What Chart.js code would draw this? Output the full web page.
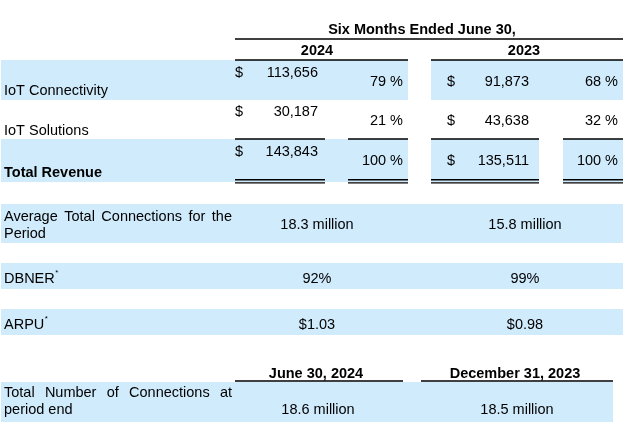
<!DOCTYPE html>
<html>
<head>
<meta charset="utf-8">
<script src="https://cdn.jsdelivr.net/npm/chart.js@4.4.1/dist/chart.umd.min.js"></script>
<style>
  html, body { margin: 0; padding: 0; background: #fff; }
  canvas { display: block; }
</style>
</head>
<body>
<canvas id="table" width="626" height="422"></canvas>
<script>
// --- Data ---
const periodTitle = 'Six Months Ended June 30,';
const periods = ['2024', '2023'];
const categories = ['IoT Connectivity', 'IoT Solutions', 'Total Revenue'];
const revenue2024 = [113656, 30187, 143843];
const revenue2023 = [91873, 43638, 135511];
const share2024 = [79, 21, 100];
const share2023 = [68, 32, 100];

const metricLabels = [['Average Total Connections for the', 'Period'], ['DBNER*'], ['ARPU*']];
const metrics2024 = ['18.3 million', '92%', '$1.03'];
const metrics2023 = ['15.8 million', '99%', '$0.98'];

const pointInTime = ['June 30, 2024', 'December 31, 2023'];
const endLabel = ['Total Number of Connections at', 'period end'];
const endConnections = [18.6, 18.5];

// --- Layout (page units = pixels of the 626x422 sheet) ---
const BLUE = '#D0EBFC';
const FONT = '"Liberation Sans", Arial, sans-serif';
const SIZE = 14.5;
const TEXT_DY = 1.5; // canvas 'middle' sits a bit above the cap centre
const col = { label: 4, labelEnd: 232, usd24: 235, amt24: 318, pct24: 403, usd23: 447, amt23: 529, pct23: 618, mid24: 317, mid23: 525 };
const revRows = { top: [60, 100, 139], bottom: [100, 139, 182], usdY: [71, 110, 150], valY: [80, 119, 159], labelY: [89, 129, 171] };
const metricRows = { top: [204, 263, 309], bottom: [243, 289, 335], valY: [223, 277, 323], labelY: [[215, 232], [277], [323]] };

const fmt = n => n.toLocaleString('en-US');

const tablePlugin = {
  id: 'tablePlugin',
  beforeDraw(chart) {
    const { ctx, scales: { x, y } } = chart;
    const X = v => x.getPixelForValue(v);
    const Y = v => y.getPixelForValue(v);

    const rect = (x0, x1, y0, y1) => {
      ctx.fillStyle = BLUE;
      ctx.fillRect(X(x0), Y(y0), X(x1) - X(x0), Y(y1) - Y(y0));
    };
    const line = (x0, x1, yy) => {
      ctx.strokeStyle = '#000';
      ctx.lineWidth = 1.4;
      ctx.beginPath();
      ctx.moveTo(X(x0), Y(yy));
      ctx.lineTo(X(x1), Y(yy));
      ctx.stroke();
    };
    const txt = (s, px, py, align, bold, size) => {
      ctx.font = (bold ? 'bold ' : '') + (size || SIZE) + 'px ' + FONT;
      ctx.fillStyle = '#000';
      ctx.textAlign = align || 'left';
      ctx.textBaseline = 'middle';
      ctx.fillText(s, X(px), Y(py + TEXT_DY));
    };
    // label with a raised asterisk like "DBNER*"
    const labelTxt = (s, px, py, bold) => {
      if (s.endsWith('*')) {
        const base = s.slice(0, -1);
        txt(base, px, py, 'left', bold);
        ctx.font = SIZE + 'px ' + FONT;
        const w = ctx.measureText(base).width;
        ctx.font = '8px ' + FONT;
        ctx.textAlign = 'left';
        ctx.fillText('*', X(px) + w + 0.5, Y(py + TEXT_DY) - 6);
      } else {
        txt(s, px, py, 'left', bold);
      }
    };
    // justified line between two x positions
    const justify = (s, x0, x1, py) => {
      ctx.font = SIZE + 'px ' + FONT;
      const words = s.split(' ');
      const widths = words.map(w => ctx.measureText(w).width);
      const total = widths.reduce((a, b) => a + b, 0);
      const gap = (X(x1) - X(x0) - total) / (words.length - 1);
      let cx = X(x0);
      ctx.fillStyle = '#000';
      ctx.textAlign = 'left';
      ctx.textBaseline = 'middle';
      words.forEach((w, i) => { ctx.fillText(w, cx, Y(py + TEXT_DY)); cx += widths[i] + gap; });
    };

    ctx.save();

    // --- backgrounds ---
    rect(1, 408, revRows.top[0], revRows.bottom[0]);
    rect(431, 623, revRows.top[0], revRows.bottom[0]);
    rect(1, 408, revRows.top[2], revRows.bottom[2]);
    rect(431, 539, revRows.top[2], revRows.bottom[2]);
    rect(563, 623, revRows.top[2], revRows.bottom[2]);
    metricLabels.forEach((_, i) => rect(1, 623, metricRows.top[i], metricRows.bottom[i]));
    rect(1, 613, 382, 422);

    // --- rules ---
    line(235, 623, 39);
    line(235, 408, 60);
    line(431, 623, 60);
    const totalSegs = [[235, 325], [348, 408], [431, 539], [563, 623]];
    totalSegs.forEach(([a, b]) => { line(a, b, 139); line(a, b, 179.7); line(a, b, 182.9); });
    line(235, 403, 381);
    line(421, 613, 381);

    // --- headers ---
    txt(periodTitle, 422, 28, 'center', true);
    txt(periods[0], col.mid24, 49, 'center', true);
    txt(periods[1], 524, 49, 'center', true);

    // --- revenue rows ---
    categories.forEach((c, i) => {
      const last = i === categories.length - 1;
      txt(c, col.label, revRows.labelY[i], 'left', last);
      txt('$', col.usd24, revRows.usdY[i], 'left');
      txt(fmt(revenue2024[i]), col.amt24, revRows.usdY[i], 'right');
      txt(share2024[i] + ' %', col.pct24, revRows.valY[i], 'right');
      txt('$', col.usd23, revRows.valY[i], 'left');
      txt(fmt(revenue2023[i]), col.amt23, revRows.valY[i], 'right');
      txt(share2023[i] + ' %', col.pct23, revRows.valY[i], 'right');
    });

    // --- metrics ---
    metricLabels.forEach((lines, i) => {
      lines.forEach((l, k) => {
        if (k < lines.length - 1) justify(l, col.label, col.labelEnd, metricRows.labelY[i][k]);
        else labelTxt(l, col.label, metricRows.labelY[i][k]);
      });
      txt(metrics2024[i], col.mid24, metricRows.valY[i], 'center');
      txt(metrics2023[i], col.mid23, metricRows.valY[i], 'center');
    });

    // --- connections at period end ---
    txt(pointInTime[0], 316, 372, 'center', true);
    txt(pointInTime[1], 515, 372, 'center', true);
    justify(endLabel[0], col.label, col.labelEnd, 391);
    txt(endLabel[1], col.label, 408, 'left');
    txt(endConnections[0] + ' million', 318, 408, 'center');
    txt(endConnections[1] + ' million', 517, 408, 'center');

    ctx.restore();
  }
};

new Chart(document.getElementById('table').getContext('2d'), {
  type: 'scatter',
  data: { datasets: [{ data: [] }] },
  options: {
    responsive: false,
    devicePixelRatio: 1,
    animation: false,
    layout: { padding: 0 },
    plugins: { legend: { display: false }, tooltip: { enabled: false } },
    scales: {
      x: { type: 'linear', min: 0, max: 626, display: false },
      y: { type: 'linear', min: 0, max: 422, reverse: true, display: false }
    }
  },
  plugins: [tablePlugin]
});
</script>
</body>
</html>
